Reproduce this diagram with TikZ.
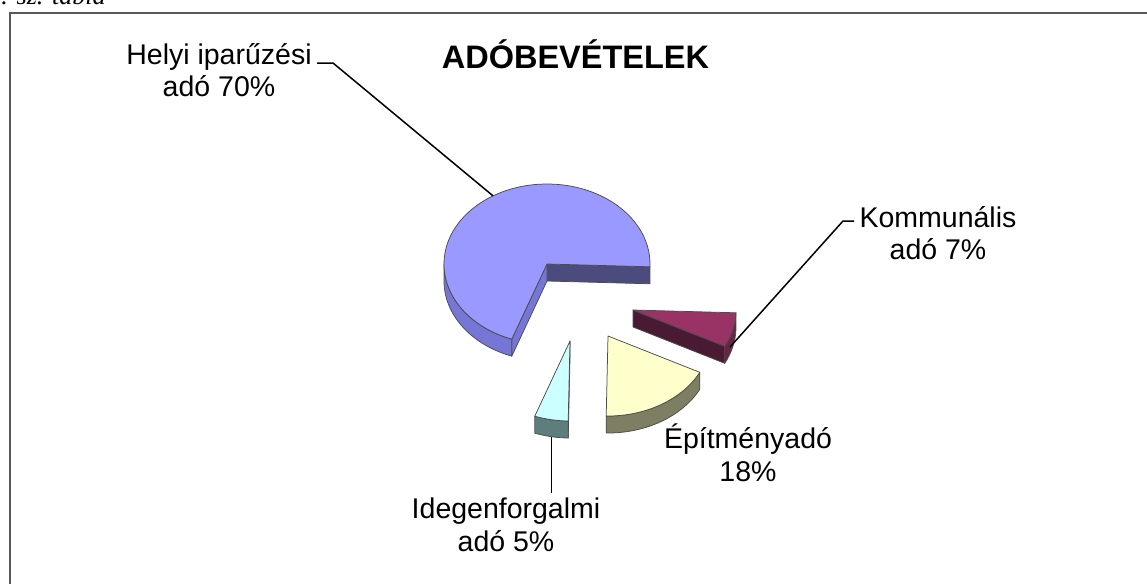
\documentclass[tikz,border=0pt]{standalone}
\usepackage{fontspec}
\setmainfont{Liberation Sans}
\newfontfamily\tablafont{Liberation Serif}
\usetikzlibrary{calc}

\definecolor{helyitop}{HTML}{9999FF}
\definecolor{helyiside}{HTML}{7676D6}
\definecolor{helyicut}{HTML}{4B4B7E}
\definecolor{kommtop}{HTML}{993366}
\definecolor{kommside}{HTML}{6A2346}
\definecolor{kommcut}{HTML}{4A1A32}
\definecolor{epittop}{HTML}{FFFFCC}
\definecolor{epitside}{HTML}{7E7E62}
\definecolor{idegtop}{HTML}{CCFFFF}
\definecolor{idegside}{HTML}{5E7E7E}

\begin{document}
\begin{tikzpicture}[x=0.4pt, y=0.4pt,
    face/.style={draw=black!70, line width=0.3pt, line join=round, x radius=103, y radius=80},
    leader/.style={line width=0.6pt},
    lbl/.style={font=\fontsize{11.4}{13}\selectfont, align=center, inner sep=2pt},
    frame/.style={draw=black!65, line width=0.6pt}]

    \useasboundingbox (0,0) rectangle (1147,583);

    % frame of the chart (only top and left edge are visible)
    \draw[frame] (1160,570) -- (10,570) -- (10,-10);
    \node[font=\tablafont\itshape\fontsize{10.4}{12}\selectfont, anchor=base west, inner sep=0pt] (tabla) at (-12,579) {2. sz. tábla};

    % centres of the exploded slices
    \coordinate (helyiC) at (547,319);
    \coordinate (kommC) at (633,273);
    \coordinate (epitC) at (608,247);
    \coordinate (idegC) at (570,242);

    % Helyi iparuzesi ado, 70%
    \filldraw[face, fill=helyicut] (helyiC) -- ++(-2:103 and 80) -- ++(0,-17) -- ($(helyiC)+(0,-17)$) -- cycle;
    \filldraw[face, fill=helyiside] (helyiC) -- ++(250:103 and 80) -- ++(0,-17) -- ($(helyiC)+(0,-17)$) -- cycle;
    \filldraw[face, fill=helyiside] ($(helyiC)+(180:103 and 80)$) arc[start angle=180, end angle=250] -- ++(0,-17) arc[start angle=250, end angle=180] -- cycle;
    \filldraw[face, fill=helyitop] (helyiC) -- ++(-2:103 and 80) arc[start angle=-2, end angle=250] -- cycle;

    % Kommunalis ado, 7%
    \filldraw[face, fill=kommcut] (kommC) -- ++(333:103 and 80) -- ++(0,-17) -- ($(kommC)+(0,-17)$) -- cycle;
    \filldraw[face, fill=kommside] ($(kommC)+(333:103 and 80)$) arc[start angle=333, end angle=358] -- ++(0,-17) arc[start angle=358, end angle=333] -- cycle;
    \filldraw[face, fill=kommtop] (kommC) -- ++(333:103 and 80) arc[start angle=333, end angle=358] -- cycle;

    % Epitmenyado, 18%
    \filldraw[face, fill=epitside] ($(epitC)+(269:103 and 80)$) arc[start angle=269, end angle=333] -- ++(0,-17) arc[start angle=333, end angle=269] -- cycle;
    \filldraw[face, fill=epittop] (epitC) -- ++(269:103 and 80) arc[start angle=269, end angle=333] -- cycle;

    % Idegenforgalmi ado, 5%
    \filldraw[face, fill=idegside] (idegC) -- ++(269:103 and 80) -- ++(0,-17) -- ($(idegC)+(0,-17)$) -- cycle;
    \filldraw[face, fill=idegside] ($(idegC)+(250:103 and 80)$) arc[start angle=250, end angle=269] -- ++(0,-17) arc[start angle=269, end angle=250] -- cycle;
    \filldraw[face, fill=idegtop] (idegC) -- ++(250:103 and 80) arc[start angle=250, end angle=269] -- cycle;

    % title and labels
    \node[font=\bfseries\fontsize{13}{15.6}\selectfont, anchor=base] (cim) at (575.5,515) {ADÓBEVÉTELEK};
    \node[lbl] (helyi) at (219,513) {Helyi iparűzési\\adó 70\%};
    \node[lbl] (komm) at (938,350) {Kommunális\\adó 7\%};
    \node[lbl] (epit) at (748,130) {Építményadó\\18\%};
    \node[lbl] (ideg) at (506,58) {Idegenforgalmi\\adó 5\%};

    % leader lines
    \coordinate (helyi-knee) at (333,520);
    \coordinate (helyi-pt) at ($(helyiC)+(121.6:103 and 80)$);
    \draw[leader] (helyi.east |- helyi-knee) -- (helyi-knee) -- (helyi-pt);

    \coordinate (komm-knee) at (843,362);
    \coordinate (komm-pt) at (730,236);
    \draw[leader] (komm.west |- komm-knee) -- (komm-knee) -- (komm-pt);

    \coordinate (ideg-pt) at ($(idegC)+(259.7:103 and 80)+(0,-17)$);
    \draw[leader] (ideg-pt) -- (ideg-pt |- ideg.north);
\end{tikzpicture}
\end{document}
